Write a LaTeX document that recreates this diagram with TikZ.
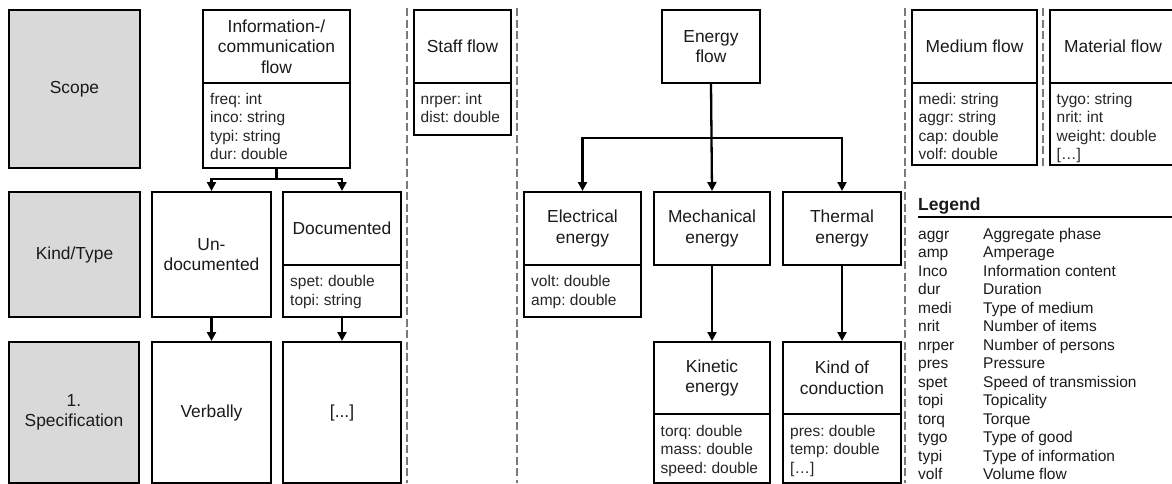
\documentclass[tikz,border=0pt]{standalone}
\usepackage{fontspec}
\setmainfont{Liberation Sans}
\usetikzlibrary{arrows.meta,calc}

\definecolor{txt}{HTML}{1A1A1A}
\definecolor{attxt}{HTML}{262626}
\definecolor{grayfill}{HTML}{D9D9D9}
\definecolor{sepline}{HTML}{7A7A7A}

\newcommand\ttlfont{\fontsize{17.4}{20.6}\selectfont}
\newcommand\attfont{\frenchspacing\fontsize{15.5}{18.5}\selectfont}

\tikzset{
  box/.style={draw, line width=2pt, fill=white, inner sep=0pt, anchor=north west,
    align=center, text=txt, font=\ttlfont},
  headbox/.style={box, fill=grayfill},
  attbox/.style={draw, line width=2pt, fill=white, inner sep=0pt, anchor=north west},
  atttext/.style={inner sep=0pt, anchor=north west, align=left, font=\attfont, text=attxt},
  conn/.style={line width=2.3pt, -{Triangle[length=9pt,width=9pt]}},
  sep/.style={line width=1.7pt, draw=sepline, dash pattern=on 8pt off 3.5pt},
  legtxt/.style={inner sep=0pt, anchor=base west, font=\attfont, text=txt},
}

\begin{document}
\begin{tikzpicture}[x=1pt, y=-1pt]
\useasboundingbox (0,0) rectangle (1172,483);

% row headers
\node[headbox, minimum width=131pt, minimum height=158pt] (scope) at (8,9) {Scope};
\node[headbox, minimum width=131pt, minimum height=125pt] (kind) at (8,191) {Kind/Type};
\node[headbox, minimum width=130pt, minimum height=141pt] (spec) at (8,341) {1.\\Specification};

% group separators
\draw[sep] (407,8) -- (407,483);
\draw[sep] (517,8) -- (517,483);
\draw[sep] (905,8) -- (905,483);
\draw[sep] (1043,8) -- (1043,166);

% information / communication flow
\node[box, minimum width=147pt, minimum height=73pt] (info) at (202,9) {Information-/\\communication\\flow};
\node[attbox, minimum width=147pt, minimum height=85pt] (infoA) at (202,82) {};
\node[atttext] (infoT) at ($(infoA.north west)+(8,11)$) {freq: int\\inco: string\\typi: string\\dur: double};
\node[box, minimum width=119pt, minimum height=125pt] (undoc) at (151,191) {Un-\\documented};
\node[box, minimum width=118pt, minimum height=73pt] (doc) at (282,191) {Documented};
\node[attbox, minimum width=118pt, minimum height=52pt] (docA) at (282,264) {};
\node[atttext] (docT) at ($(docA.north west)+(8,11.5)$) {spet: double\\topi: string};
\node[box, minimum width=119pt, minimum height=141pt] (verb) at (151,341) {Verbally};
\node[box, minimum width=118pt, minimum height=141pt] (docmore) at (282,341) {[...]};

\coordinate (j1) at ($(infoA.south)+(0,10)$);
\draw[conn] (infoA.south) -- (j1) -| (undoc.north);
\draw[conn] (j1) -| (doc.north);
\draw[conn] (undoc.south) -- (verb.north);
\draw[conn] (docA.south) -- (docmore.north);

% staff flow
\node[box, minimum width=97pt, minimum height=73pt] (staff) at (413,9) {Staff flow};
\node[attbox, minimum width=97pt, minimum height=52pt] (staffA) at (413,82) {};
\node[atttext] (staffT) at ($(staffA.north west)+(7.5,11)$) {nrper: int\\dist: double};

% energy flow
\node[box, minimum width=98pt, minimum height=73pt] (energy) at (661,9) {Energy\\flow};
\node[box, minimum width=117pt, minimum height=73pt] (elec) at (523,191) {Electrical\\energy};
\node[attbox, minimum width=117pt, minimum height=52pt] (elecA) at (523,264) {};
\node[atttext] (elecT) at ($(elecA.north west)+(8,11.5)$) {volt: double\\amp: double};
\node[box, minimum width=116pt, minimum height=73pt] (mech) at (653,191) {Mechanical\\energy};
\node[box, minimum width=118pt, minimum height=73pt] (therm) at (782,191) {Thermal\\energy};
\node[box, minimum width=116pt, minimum height=72pt] (kin) at (653,341) {Kinetic\\energy};
\node[attbox, minimum width=116pt, minimum height=69pt] (kinA) at (653,413) {};
\node[atttext] (kinT) at ($(kinA.north west)+(7.5,12)$) {torq: double\\mass: double\\speed: double};
\node[box, minimum width=118pt, minimum height=72pt] (cond) at (782,341) {Kind of\\conduction};
\node[attbox, minimum width=118pt, minimum height=69pt] (condA) at (782,413) {};
\node[atttext] (condT) at ($(condA.north west)+(8,12)$) {pres: double\\temp: double\\{}[…]};

\coordinate (j2) at ($(energy.south)+(0,54)$);
\draw[conn] (energy.south) -- (mech.north);
\draw[conn] (j2) -| (elec.north);
\draw[conn] (j2) -| (therm.north);
\draw[conn] (mech.south) -- (kin.north);
\draw[conn] (therm.south) -- (cond.north);

% medium and material flow
\node[box, minimum width=125pt, minimum height=73pt] (medium) at (911,9) {Medium flow};
\node[attbox, minimum width=125pt, minimum height=82pt] (mediumA) at (911,82) {};
\node[atttext] (mediumT) at ($(mediumA.north west)+(7.5,11)$) {medi: string\\aggr: string\\cap: double\\volf: double};
\node[box, minimum width=126pt, minimum height=73pt] (material) at (1049,9) {Material flow};
\node[attbox, minimum width=126pt, minimum height=82pt] (materialA) at (1049,82) {};
\node[atttext] (materialT) at ($(materialA.north west)+(7.5,11)$) {tygo: string\\nrit: int\\weight: double\\{}[…]};

% legend
\node[legtxt, font=\bfseries\fontsize{17.5}{21}\selectfont] (legend) at (918,210) {Legend};
\draw[line width=2pt] (918,217) -- (1172,217);
\foreach \k/\v [count=\i from 0] in {aggr/Aggregate phase, amp/Amperage,
    Inco/Information content, dur/Duration, medi/Type of medium, nrit/Number of items,
    nrper/Number of persons, pres/Pressure, spet/Speed of transmission, topi/Topicality,
    torq/Torque, tygo/Type of good, typi/Type of information, volf/Volume flow} {
  \node[legtxt] (lk\i) at (918,239+18.5*\i) {\k};
  \node[legtxt] (lv\i) at (983,239+18.5*\i) {\v};
}
\end{tikzpicture}
\end{document}
